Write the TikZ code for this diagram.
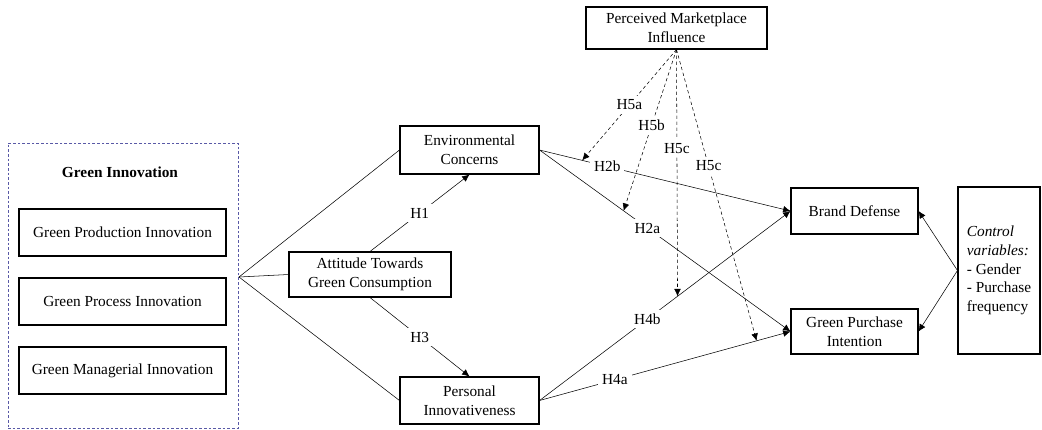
\documentclass[tikz,border=0pt]{standalone}
\usepackage{fontspec}
\setmainfont{Liberation Serif}
\usepackage{tikz}
\usetikzlibrary{arrows.meta}

\begin{document}
\begin{tikzpicture}[
    x=0.75pt, y=-0.75pt,
    font=\fontsize{11.5}{14}\selectfont,
    box/.style={draw, thick, align=center, inner sep=2pt},
    lbl/.style={fill=white, inner sep=3pt},
    arr/.style={-{Latex[length=5.5pt,width=5pt]}},
    mod/.style={arr, dashed, dash pattern=on 2.5pt off 2pt}
]
  \useasboundingbox (0,0) rectangle (1042,429);

  % green innovation block
  \node[draw=gray!70!blue, dashed, dash pattern=on 2pt off 1.5pt, minimum width=172.5pt, minimum height=213.75pt] (GI) at (123,285.5) {};
  \node[font=\fontsize{11.5}{14}\selectfont\bfseries] (GIt) at (120,172) {Green Innovation};
  \node[box, minimum width=155.25pt, minimum height=35.25pt] (GPI) at (122.5,232.5) {Green Production Innovation};
  \node[box, minimum width=155.25pt, minimum height=35.25pt] (GPrI) at (122.5,301.5) {Green Process Innovation};
  \node[box, minimum width=155.25pt, minimum height=35.25pt] (GMI) at (122.5,370.5) {Green Managerial Innovation};
  \coordinate (apex) at (239,277);

  % mediators
  \node[box, minimum width=104.25pt, minimum height=36pt] (EC) at (469.5,150) {Environmental\\Concerns};
  \node[box, minimum width=121.5pt, minimum height=33.75pt] (ATT) at (370,274.5) {Attitude Towards\\Green Consumption};
  \node[box, minimum width=104.25pt, minimum height=35.25pt] (PI) at (469.5,400.5) {Personal\\Innovativeness};
  \node[box, minimum width=135.75pt, minimum height=31.5pt] (PMI) at (676.5,28) {Perceived Marketplace\\Influence};

  % outcomes
  \node[box, minimum width=95.25pt, minimum height=34.5pt] (BD) at (854.5,211) {Brand Defense};
  \node[box, minimum width=95.25pt, minimum height=33.75pt] (GPInt) at (854.5,331.5) {Green Purchase\\Intention};
  \node[box, minimum width=61.5pt, minimum height=125.25pt, align=left, inner sep=4pt] (CV) at (999,270.5)
       {\textit{Control}\\\textit{variables:}\\- Gender\\- Purchase\\frequency};

  \draw (apex) -- (EC.west);
  \draw (apex) -- (ATT.west);
  \draw (apex) -- (PI.west);

  \draw[arr] (ATT.north) -- node[lbl, pos=0.5] {H1} (EC.south);
  \draw[arr] (ATT.south) -- node[lbl, pos=0.5] {H3} (PI.north);

  \draw[arr] (EC.east) -- node[lbl, pos=0.27] {H2b} coordinate[pos=0.17] (m5a) (BD.west);
  \draw[arr] (EC.east) -- node[lbl, pos=0.43] {H2a} coordinate[pos=0.335] (m5b) (GPInt.west);
  \draw[arr] (PI.east) -- node[lbl, pos=0.43] {H4b} coordinate[pos=0.55] (m5c) (BD.west);
  \draw[arr] (PI.east) -- node[lbl, pos=0.30] {H4a} coordinate[pos=0.865] (m5d) (GPInt.west);

  \draw[arr] (CV.west) -- (BD.east);
  \draw[arr] (CV.west) -- (GPInt.east);

  % moderation
  \draw[mod] (PMI.south) -- node[lbl, pos=0.5] {H5a} (m5a);
  \draw[mod] (PMI.south) -- node[lbl, pos=0.47] {H5b} (m5b);
  \draw[mod] (PMI.south) -- node[lbl, pos=0.4] {H5c} (m5c);
  \draw[mod] (PMI.south) -- node[lbl, pos=0.4] {H5c} (m5d);
\end{tikzpicture}
\end{document}
